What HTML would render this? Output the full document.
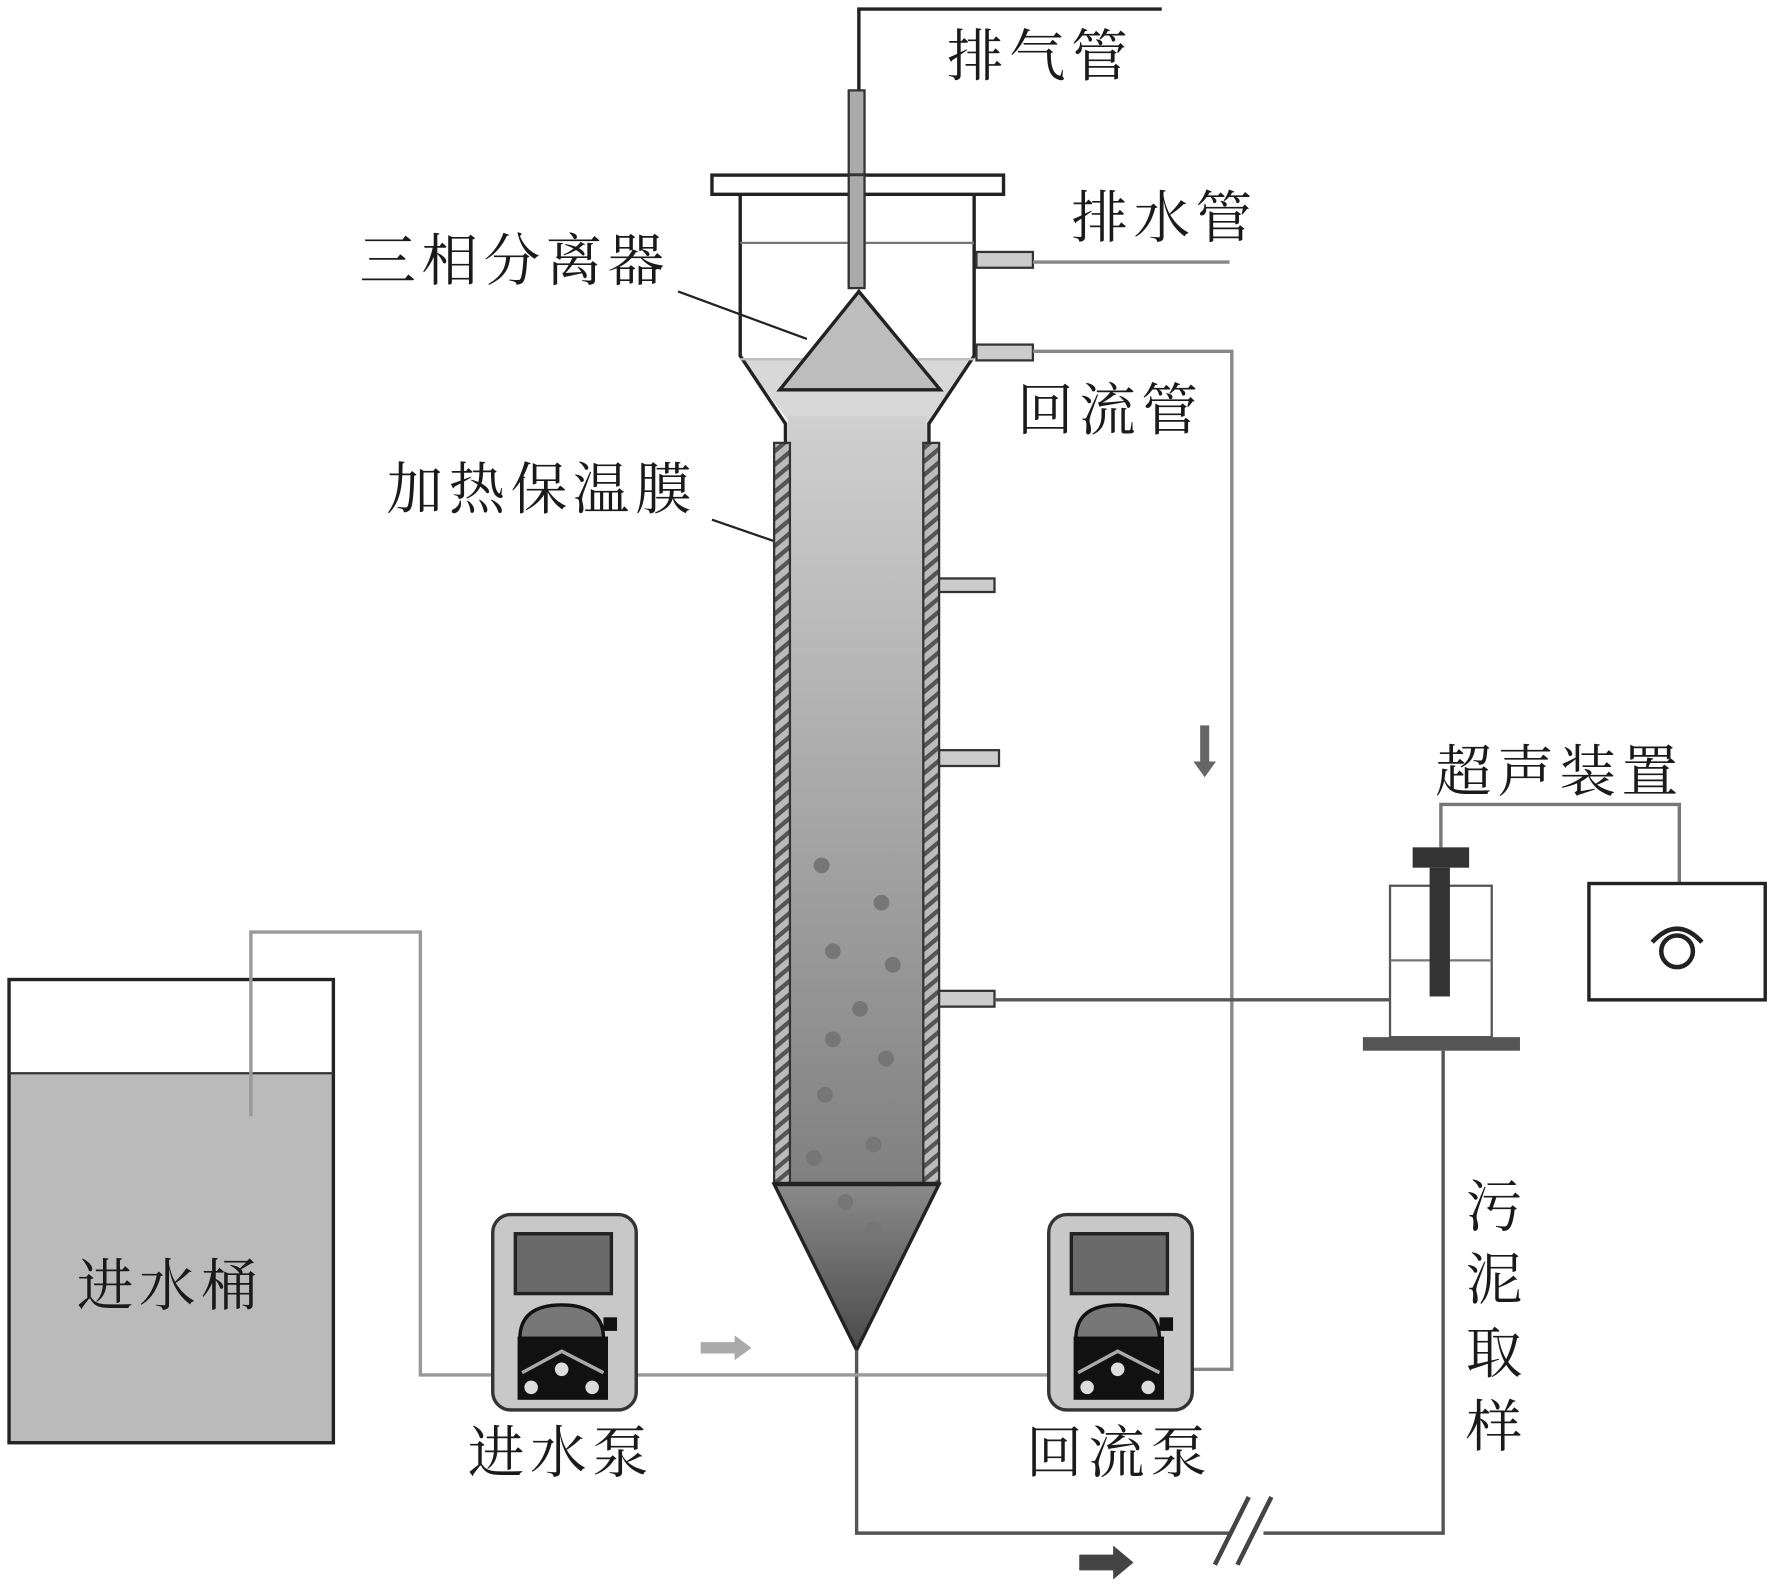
<!DOCTYPE html>
<html><head><meta charset="utf-8"><style>html,body{margin:0;padding:0;background:#fff}svg{display:block}text{font-family:"Liberation Serif","Noto Serif CJK SC","Noto Sans CJK SC",serif;fill:#1a1a1a;letter-spacing:5px}</style></head>
<body>
<svg width="1772" height="1593" viewBox="0 0 1568 1410" preserveAspectRatio="none">
<defs>
<linearGradient id="col" x1="0" y1="0" x2="0" y2="1"><stop offset="0" stop-color="#d0d0d0"/><stop offset="0.5" stop-color="#a8a8a8"/><stop offset="1" stop-color="#808080"/></linearGradient>
<linearGradient id="cone" x1="0" y1="0" x2="0" y2="1"><stop offset="0" stop-color="#8a8a8a"/><stop offset="1" stop-color="#4a4a4a"/></linearGradient>
<pattern id="hatch" width="14" height="12" patternUnits="userSpaceOnUse" patternTransform="skewY(-40)"><rect width="14" height="12" fill="#bbb"/><rect y="0" width="14" height="5" fill="#555"/></pattern>
</defs>
<polyline points="760,80 760,8 1028,8" fill="none" stroke="#222" stroke-width="3"/>
<rect x="751" y="80" width="14" height="172" fill="#aaa" stroke="#333" stroke-width="2"/>
<text x="838" y="67" font-size="50">排气管</text>
<path d="M657,318 L862,318 L822,372 L822,395 L697,395 L697,372 Z" fill="#d8d8d8"/>
<path d="M655,172 L655,315 L695,375 L695,392 M862,172 L862,315 L822,375 L822,392" fill="none" stroke="#222" stroke-width="3"/>
<line x1="655" y1="215" x2="862" y2="215" stroke="#777" stroke-width="2"/>
<line x1="655" y1="318" x2="862" y2="318" stroke="#bbb" stroke-width="2"/>
<rect x="630" y="155" width="258" height="17" fill="#fff" stroke="#222" stroke-width="3"/>
<rect x="751" y="155" width="14" height="100" fill="#aaa" stroke="#333" stroke-width="2"/>
<polygon points="760,258 690,345 832,345" fill="#bdbdbd" stroke="#222" stroke-width="3"/>
<rect x="864" y="223" width="50" height="14" fill="#ccc" stroke="#333" stroke-width="2"/>
<line x1="914" y1="232" x2="1088" y2="232" stroke="#888" stroke-width="3"/>
<rect x="864" y="305" width="50" height="14" fill="#ccc" stroke="#333" stroke-width="2"/>
<polyline points="914,311 1090,311 1090,1212 1050,1212" fill="none" stroke="#888" stroke-width="3"/>
<text x="948" y="210" font-size="50">排水管</text>
<text x="318" y="248" font-size="50">三相分离器</text>
<line x1="600" y1="258" x2="714" y2="300" stroke="#222" stroke-width="2"/>
<text x="900" y="380" font-size="50">回流管</text>
<text x="342" y="450" font-size="50">加热保温膜</text>
<line x1="630" y1="460" x2="688" y2="480" stroke="#222" stroke-width="2"/>
<rect x="697" y="368" width="123" height="682" fill="url(#col)"/>
<rect x="685" y="392" width="14" height="656" fill="url(#hatch)" stroke="#333" stroke-width="2"/>
<rect x="817" y="392" width="14" height="656" fill="url(#hatch)" stroke="#333" stroke-width="2"/>
<polygon points="685,1048 831,1048 758,1195" fill="url(#cone)" stroke="#222" stroke-width="3"/>
<line x1="685" y1="1048" x2="831" y2="1048" stroke="#222" stroke-width="4"/>
<rect x="831" y="512" width="49" height="12" fill="#ccc" stroke="#333" stroke-width="2"/>
<rect x="831" y="664" width="53" height="14" fill="#ccc" stroke="#333" stroke-width="2"/>
<rect x="831" y="877" width="49" height="14" fill="#ccc" stroke="#333" stroke-width="2"/>
<g fill="#767676">
<circle cx="727" cy="766" r="7"/><circle cx="780" cy="799" r="7"/><circle cx="737" cy="842" r="7"/><circle cx="790" cy="854" r="7"/><circle cx="761" cy="893" r="7"/><circle cx="737" cy="920" r="7"/><circle cx="784" cy="937" r="7"/><circle cx="730" cy="969" r="7"/><circle cx="720" cy="1025" r="7"/><circle cx="773" cy="1013" r="7"/><circle cx="748" cy="1064" r="7"/><circle cx="773" cy="1088" r="7"/>
</g>
<polygon points="1062,642 1070,642 1070,674 1076,674 1066,688 1056,674 1062,674" fill="#666"/>
<text x="1270" y="700" font-size="50">超声装置</text>
<polyline points="1275,750 1275,712 1486,712 1486,782" fill="none" stroke="#777" stroke-width="3"/>
<rect x="1406" y="782" width="156" height="103" fill="#fff" stroke="#222" stroke-width="3"/>
<circle cx="1484" cy="842" r="14" fill="none" stroke="#222" stroke-width="4"/>
<path d="M1462,834 Q1484,810 1506,834" fill="none" stroke="#222" stroke-width="4"/>
<rect x="1230" y="784" width="90" height="134" fill="#fff" stroke="#555" stroke-width="2"/>
<line x1="1230" y1="850" x2="1320" y2="850" stroke="#777" stroke-width="2"/>
<rect x="1250" y="750" width="50" height="18" fill="#333"/>
<rect x="1265" y="768" width="18" height="114" fill="#333"/>
<rect x="1206" y="918" width="139" height="12" fill="#555"/>
<line x1="880" y1="885" x2="1230" y2="885" stroke="#555" stroke-width="3"/>
<polyline points="1277,930 1277,1357 758,1357 758,1195" fill="none" stroke="#555" stroke-width="3"/>
<rect x="1088" y="1340" width="30" height="34" fill="#fff"/>
<line x1="1075" y1="1385" x2="1105" y2="1325" stroke="#444" stroke-width="4"/>
<line x1="1095" y1="1385" x2="1125" y2="1325" stroke="#444" stroke-width="4"/>
<polygon points="955,1376 985,1376 985,1368 1003,1383 985,1398 985,1390 955,1390" fill="#444"/>
<g font-size="50"><text x="1297" y="1085">污</text><text x="1297" y="1150">泥</text><text x="1297" y="1215">取</text><text x="1297" y="1280">样</text></g>
<rect x="8" y="950" width="287" height="327" fill="#bababa"/>
<rect x="8" y="867" width="287" height="410" fill="none" stroke="#222" stroke-width="3"/>
<line x1="8" y1="950" x2="295" y2="950" stroke="#333" stroke-width="2"/>
<text x="68" y="1155" font-size="50">进水桶</text>
<polyline points="222,988 222,825 372,825 372,1217 1050,1217" fill="none" stroke="#999" stroke-width="3"/>
<polygon points="620,1188 650,1188 650,1182 665,1193 650,1204 650,1198 620,1198" fill="#aaa"/>
<g id="p1">
<rect x="436" y="1075" width="127" height="173" rx="16" fill="#c8c8c8" stroke="#333" stroke-width="3"/>
<rect x="456" y="1092" width="85" height="53" fill="#6a6a6a" stroke="#222" stroke-width="3"/>
<path d="M460,1185 Q460,1155 497,1155 Q534,1155 534,1185 Z" fill="#777" stroke="#111" stroke-width="3"/>
<rect x="534" y="1166" width="12" height="12" fill="#111"/>
<rect x="458" y="1183" width="80" height="56" fill="#111"/>
<polyline points="462,1215 497,1196 534,1215" fill="none" stroke="#aaa" stroke-width="3"/>
<circle cx="470" cy="1228" r="6" fill="#ddd"/><circle cx="524" cy="1228" r="6" fill="#ddd"/><circle cx="497" cy="1212" r="6" fill="#ddd"/>
</g>
<use href="#p1" transform="translate(492,0)"/>
<text x="414" y="1303" font-size="50">进水泵</text>
<text x="908" y="1303" font-size="50">回流泵</text>
</svg>
</body></html>
